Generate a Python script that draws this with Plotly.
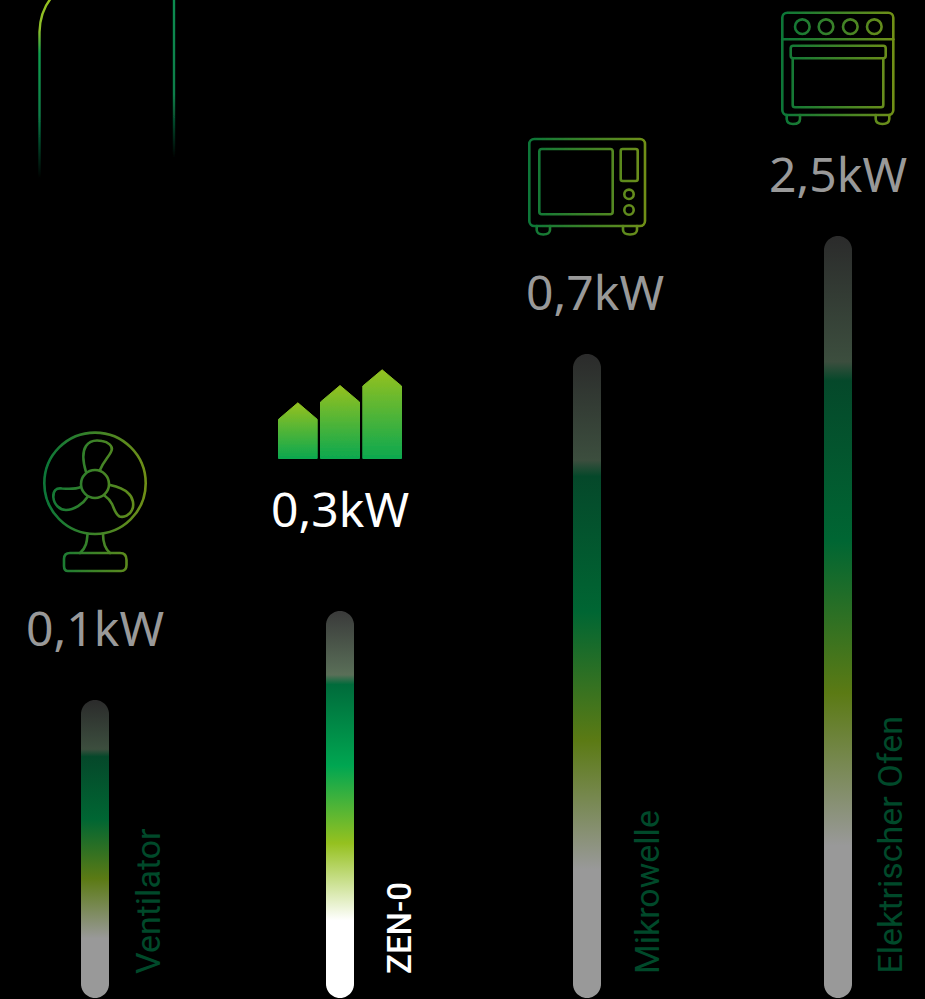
import base64
import math
import plotly.graph_objects as go

# ---------- data ----------
categories = ["Ventilator", "ZEN-0", "Mikrowelle", "Elektrischer Ofen"]
power_kw = [0.1, 0.3, 0.7, 2.5]
bar_levels = [298, 387, 644, 762]

# ---------- layout / style ----------
W, H = 925, 999
BASE = 1
BAR_HALF = 14
bar_centers = [95, 340, 587, 838]
value_centers = [95, 340, 595, 838]
value_gaps = [73, 103, 63, 63]
name_x = [148, 399, 647, 889]
STOPS = [0, 0.165, 0.19, 0.4, 0.6, 0.8, 1]
DIM = ["#2b2b2b", "#3c4e3e", "#05482a", "#006633", "#5b7a14", "#999999", "#999999"]
HI = ["#3a3a3a", "#5a6f58", "#006b3b", "#00a651", "#95c11f", "#ffffff", "#ffffff"]


def capsule(cx, top, bottom, r):
    xs, ys = [], []
    for i in range(0, 25):
        a = math.pi * i / 24
        xs.append(cx + r * math.cos(a))
        ys.append(top - r + r * math.sin(a))
    for i in range(0, 25):
        a = math.pi + math.pi * i / 24
        xs.append(cx + r * math.cos(a))
        ys.append(bottom + r + r * math.sin(a))
    xs.append(xs[0])
    ys.append(ys[0])
    return xs, ys


fig = go.Figure()
annotations = []
for i, cat in enumerate(categories):
    highlight = cat == "ZEN-0"
    top = BASE + bar_levels[i]
    xs, ys = capsule(bar_centers[i], top, BASE, BAR_HALF)
    colours = HI if highlight else DIM
    # colorscale runs from the lowest y (bottom) to the highest y (top)
    scale = sorted([[round(1 - s, 4), c] for s, c in zip(STOPS, colours)], key=lambda p: p[0])
    fig.add_trace(go.Scatter(
        x=xs, y=ys, mode="none", fill="toself", name=cat,
        fillgradient=dict(type="vertical", colorscale=scale, start=BASE, stop=top),
        hoverinfo="name", showlegend=False,
    ))
    annotations.append(dict(
        x=value_centers[i], y=top + value_gaps[i], xref="x", yref="y", showarrow=False,
        text=f"{power_kw[i]:.1f}".replace(".", ",") + "kW",
        font=dict(family="Noto Sans", size=48, weight=400, color="#ffffff" if highlight else "#999999"),
        xanchor="center", yanchor="middle",
    ))
    annotations.append(dict(
        x=name_x[i], y=23, xref="x", yref="y", showarrow=False, text=cat, textangle=-90,
        font=dict(family="Roboto", size=33 if highlight else 34, weight=500 if highlight else 400,
                  color="#ffffff" if highlight else "#00492a"),
        xanchor="center", yanchor="bottom",
    ))


# ---------- pictograms ----------
BLUR = '<filter id="s" x="-10%" y="-10%" width="120%" height="120%"><feGaussianBlur stdDeviation="0.4"/></filter>'


def svg_uri(x0, y0, w, h, defs, body):
    svg = (f'<svg xmlns="http://www.w3.org/2000/svg" width="{w}" height="{h}" '
           f'viewBox="{x0} {y0} {w} {h}"><defs>{BLUR}{defs}</defs><g filter="url(#s)">{body}</g></svg>')
    return "data:image/svg+xml;base64," + base64.b64encode(svg.encode()).decode()


def hgrad(x1, x2, c1="#0b7638", c2="#6f8f18"):
    return (f'<linearGradient id="g" gradientUnits="userSpaceOnUse" x1="{x1}" x2="{x2}" y1="0" y2="0">'
            f'<stop offset="0" stop-color="{c1}"/><stop offset="1" stop-color="{c2}"/></linearGradient>')


def rr(x1, y1, x2, y2, r):
    return f'<rect x="{x1}" y="{y1}" width="{x2-x1}" height="{y2-y1}" rx="{r}"/>'


def circ(cx, cy, r):
    return f'<circle cx="{cx}" cy="{cy}" r="{r}"/>'


def wrap(body, sw=2.6):
    return f'<g fill="none" stroke="url(#g)" stroke-width="{sw}" stroke-linecap="round" stroke-linejoin="round">{body}</g>'


fan = wrap(
    circ(95, 483.3, 50.7) + circ(95, 484, 14)
    + '<path d="M86 472 C83 462 82 452 86 446 C90 440 97 440 102 441 C108 442 113 446 111.7 450 C110 456 104 460 100 470"/>'
    + '<path d="M81 487 C75 489.5 68 489 62 488.5 C56 487.5 53 491 53.3 497 C54 505 60 510 66 510 C74 510 83 504 87.5 497"/>'
    + '<path d="M110 485 C117 486.5 124 489 128 493 C133 497 134.5 505 132 510 C130 515 124 518 119.5 516.5 C115 514 114 508 112 504 C110 500 108 498 105 496"/>'
    + '<path d="M87.500 534 C87 540 87 547 80 553 M103 534 C103 541 104 548 110 553"/>'
    + '<path d="M70 553 H120 Q126.500 553 126.500 560 V565 Q126.500 571 121 571 H68 Q64 571 64 566 V559 Q64 553 70 553 Z"/>'
)
micro = wrap(
    rr(529.3, 139, 645, 226, 5) + rr(539.3, 149, 612.7, 214.3, 2.500) + rr(620.7, 149, 637.7, 181, 2)
    + circ(629, 194.3, 4.7) + circ(629, 210, 4.7)
    + '<path d="M536.700 226 V230 Q537 234.500 543.300 234.500 Q549.700 234.500 550 230 V226 M623 226 V230 Q623.300 234.500 630 234.500 Q636.700 234.500 637 230 V226"/>'
)
oven = wrap(
    rr(782.3, 12.7, 893.3, 115, 5)
    + '<path d="M782.300 39.300 H893.300"/>'
    + "".join(circ(k, 26.7, 7.3) for k in (802.3, 826, 850.3, 874.3))
    + rr(790.7, 45.7, 885.7, 58.3, 2.500)
    + '<path d="M792.700 58.300 V105 Q792.700 107.300 795 107.300 H881 Q883.300 107.300 883.300 105 V58.300"/>'
    + '<path d="M786.700 115 V119 Q787 124 793 124 Q800 124 800 119 V115 M875.700 115 V119 Q876 124 882.500 124 Q889 124 889.300 119 V115"/>'
)
vgrad = ('<linearGradient id="g" x1="0" x2="0" y1="0" y2="1"><stop offset="0" stop-color="#95c11f"/>'
         '<stop offset="1" stop-color="#0ca84f"/></linearGradient>')
house = "".join(
    f'<path d="M{x1} {b} V{s} L{(x1+x2)/2} {a} L{x2} {s} V{b} Z"/>'
    for x1, x2, s, a, b in [(278.5, 317.2, 419.3, 402.8, 458.5), (320.5, 359.5, 402, 385.5, 458.5), (362.8, 401.5, 386, 369.8, 458.5)]
)
house_svg = f'<g fill="url(#g)" stroke="url(#g)" stroke-width="1" stroke-linejoin="round">{house}</g>'
fade_defs = (
    '<linearGradient id="a" gradientUnits="userSpaceOnUse" x1="0" x2="0" y1="0" y2="178">'
    '<stop offset="0" stop-color="#95c11f"/><stop offset="0.17" stop-color="#8ebf2b"/>'
    '<stop offset="0.3" stop-color="#0fa04f"/><stop offset="0.65" stop-color="#0a7d48"/>'
    '<stop offset="1" stop-color="#0a7d48" stop-opacity="0"/></linearGradient>'
    '<linearGradient id="b" gradientUnits="userSpaceOnUse" x1="0" x2="0" y1="0" y2="158">'
    '<stop offset="0" stop-color="#0a8c50"/><stop offset="0.6" stop-color="#0a7d48"/>'
    '<stop offset="1" stop-color="#0a7d48" stop-opacity="0"/></linearGradient>'
)
arch = ('<path d="M39.500 178 V32 Q40 12 51 -2" fill="none" stroke="url(#a)" stroke-width="2.4"/>'
        '<path d="M174 158 V-2" fill="none" stroke="url(#b)" stroke-width="2.4"/>')

icons = [
    (40, 428, 112, 150, hgrad(44, 146), fan),
    (524, 134, 126, 106, hgrad(529, 645), micro),
    (778, 8, 120, 120, hgrad(782, 893), oven),
    (272, 364, 136, 100, vgrad, house_svg),
    (30, 0, 155, 180, fade_defs, arch),
]
images = [
    dict(source=svg_uri(x, y, w, h, d, b), xref="x", yref="y", x=x, y=H - y, sizex=w, sizey=h,
         xanchor="left", yanchor="top", sizing="stretch", layer="above")
    for x, y, w, h, d, b in icons
]

axis = dict(visible=False, showgrid=False, zeroline=False, fixedrange=True)
fig.update_layout(
    width=W, height=H, margin=dict(l=0, r=0, t=0, b=0),
    paper_bgcolor="#000000", plot_bgcolor="#000000",
    xaxis=dict(range=[0, W], **axis), yaxis=dict(range=[0, H], **axis),
    annotations=annotations, images=images, showlegend=False,
)
fig.write_html("out.html", config={"displayModeBar": False},
               post_script="document.body.style.margin='0';document.documentElement.style.overflow='hidden';document.documentElement.style.background='#000';")
